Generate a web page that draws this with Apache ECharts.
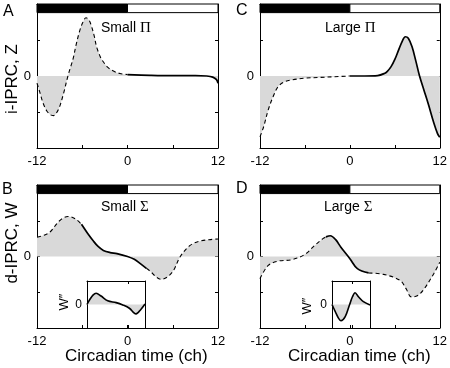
<!DOCTYPE html>
<html><head><meta charset="utf-8">
<script src="https://cdn.jsdelivr.net/npm/echarts@6/dist/echarts.min.js"></script>
<style>html,body{margin:0;padding:0;background:#fff}#c{width:450px;height:368px}</style>
</head><body><div id="c"></div>
<script>
// ---------------- data ----------------
const xTickLabels = [-12, 0, 12];
const xTicks = [-12, -6, 0, 6, 12];
const yTickLabels = [0];
const darkBar = [-12, 0];
const lightBar = [0, 12];

// Panel A: i-IPRC, Z (small Pi)
const aX = [-12, -11.6, -11.2, -10.7, -10.2, -9.8, -9.4, -9.0, -8.5, -7.9, -7.5, -7.2, -6.8, -6.3, -5.9, -5.5, -5.1, -4.8, -4.4, -4.1, -3.7, -3.4, -2.6, -1.8, -1, 0, 3, 6, 9, 10.5, 11.3, 11.8, 12];
const aY = [-0.2, -0.47, -0.75, -0.97, -1.08, -1.1, -1.02, -0.85, -0.5, 0, 0.28, 0.49, 0.88, 1.28, 1.5, 1.62, 1.55, 1.4, 1.1, 0.81, 0.58, 0.45, 0.24, 0.13, 0.07, 0.04, 0.02, 0.01, 0.01, 0, -0.03, -0.1, -0.2];
const aSolid = [[0, 12]];
const aDashed = [[-12, 0]];

// Panel C: i-IPRC, Z (large Pi)
const cX = [-12, -11.5, -10.9, -10.2, -9.6, -8.8, -7.8, -6, -4, -2, 0, 2, 3.7, 4.6, 5.0, 5.5, 6.0, 6.5, 7.0, 7.4, 7.8, 8.3, 8.8, 9.3, 9.9, 10.5, 11.2, 11.7, 12];
const cY = [-1.69, -1.4, -0.94, -0.55, -0.3, -0.17, -0.11, -0.06, -0.04, -0.02, 0, 0, 0.01, 0.07, 0.13, 0.26, 0.46, 0.72, 0.97, 1.09, 1.05, 0.81, 0.42, 0, -0.4, -0.8, -1.3, -1.6, -1.7];
const cSolid = [[0, 12]];
const cDashed = [[-12, 0]];

// Panel B: d-IPRC, W (small Sigma)
const bX = [-12, -11, -10.3, -9, -7.9, -6.9, -6.1, -5.3, -4.55, -3.9, -3.2, -2.3, -1.4, 0, 0.9, 1.7, 2.5, 3.0, 3.8, 4.45, 5.3, 6.1, 7.0, 8.3, 9.6, 10.8, 12];
const bY = [0.54, 0.6, 0.68, 1.0, 1.12, 1.05, 0.9, 0.65, 0.44, 0.28, 0.17, 0.11, 0.08, 0, -0.08, -0.2, -0.33, -0.41, -0.57, -0.64, -0.57, -0.39, 0, 0.31, 0.43, 0.47, 0.49];
const bSolid = [[-6.1, 2.5]];
const bDashed = [[-12, -6.1], [2.5, 12]];

// Panel D: d-IPRC, W (large Sigma)
const dX = [-12, -10.9, -9.6, -7.8, -6, -4.7, -3.6, -3.2, -2.6, -1.9, -1.2, 0, 1.0, 2.5, 4.5, 6.7, 7.5, 8.2, 9.0, 9.8, 11.2, 12];
const dY = [-0.62, -0.25, -0.13, -0.09, 0.06, 0.31, 0.5, 0.55, 0.58, 0.47, 0.26, -0.06, -0.34, -0.46, -0.5, -0.67, -0.9, -1.13, -1.1, -0.94, -0.48, -0.16];
const dSolid = [[-3.2, 2.5]];
const dDashed = [[-12, -3.2], [2.5, 12]];

// Insets: W''
const ibX = [-5, -4.7, -4.28, -3.9, -3.3, -2.5, -1.48, -0.68, 0.11, 0.71, 0.92, 1.52, 2];
const ibY = [0, 0.19, 0.4, 0.48, 0.36, 0.16, 0.08, -0.02, -0.16, -0.37, -0.4, -0.2, 0.02];
const idX = [-2.2, -1.84, -1.47, -1.21, -0.74, -0.27, 0.06, 0.35, 0.72, 1.27, 2];
const idY = [0, -0.3, -0.59, -0.69, -0.52, -0.02, 0.33, 0.5, 0.33, 0.12, -0.02];

// ---------------- chart ----------------
const FONT = 'Liberation Sans, Arial, Helvetica, sans-serif';
const FILL = '#d9d9d9';
const SMOOTH = 0.35;
const chart = echarts.init(document.getElementById('c'), null, {renderer: 'canvas'});

function pts(xs, ys, lo, hi) {
  const o = [];
  for (let i = 0; i < xs.length; i++) if (xs[i] >= lo - 1e-9 && xs[i] <= hi + 1e-9) o.push([xs[i], ys[i]]);
  return o;
}

const grid = [], xAxis = [], yAxis = [], series = [];

function mainPanel(box, xs, ys, solid, dashed, labelVals) {
  const g = grid.length;
  grid.push(Object.assign({}, box));
  const xb = xAxis.length;
  xAxis.push({gridIndex: g, type: 'value', min: -12, max: 12, interval: 6, position: 'bottom',
    axisLine: {show: true, onZero: false, lineStyle: {color: '#000', width: 1}},
    axisTick: {show: true, inside: true, length: 3, lineStyle: {color: '#000'}, customValues: xTicks},
    axisLabel: {show: true, hideOverlap: false, customValues: labelVals, margin: 7, fontSize: 13, color: '#000', fontFamily: FONT},
    splitLine: {show: false}});
  xAxis.push({gridIndex: g, type: 'value', min: -12, max: 12, position: 'top',
    axisLine: {show: true, onZero: false, lineStyle: {color: '#000', width: 1}},
    axisTick: {show: false}, axisLabel: {show: false}, splitLine: {show: false}});
  const yl = yAxis.length;
  yAxis.push({gridIndex: g, type: 'value', min: -2, max: 2, interval: 1, position: 'left',
    axisLine: {show: true, onZero: false, lineStyle: {color: '#000', width: 1}},
    axisTick: {show: true, inside: true, length: 3, lineStyle: {color: '#000'}},
    axisLabel: {show: true, hideOverlap: false, customValues: yTickLabels, margin: 6, fontSize: 13, color: '#000', fontFamily: FONT},
    splitLine: {show: false}});
  yAxis.push({gridIndex: g, type: 'value', min: -2, max: 2, interval: 1, position: 'right',
    axisLine: {show: true, onZero: false, lineStyle: {color: '#000', width: 1}},
    axisTick: {show: true, inside: true, length: 3, lineStyle: {color: '#000'}},
    axisLabel: {show: false}, splitLine: {show: false}});
  const all = xs.map((x, i) => [x, ys[i]]);
  series.push({type: 'line', xAxisIndex: xb, yAxisIndex: yl, data: all, smooth: SMOOTH,
    symbol: 'none', silent: true, z: 1,
    lineStyle: {width: 0, opacity: 0}, areaStyle: {color: FILL, opacity: 1, origin: 0},
    markArea: {silent: true, label: {show: false},
      itemStyle: {borderColor: '#000', borderWidth: 1},
      data: [
        [{xAxis: darkBar[0], yAxis: 1.76, itemStyle: {color: '#000', borderColor: '#000', borderWidth: 1}}, {xAxis: darkBar[1], yAxis: 2}],
        [{xAxis: lightBar[0], yAxis: 1.76, itemStyle: {color: '#fff', borderColor: '#000', borderWidth: 1}}, {xAxis: lightBar[1], yAxis: 2}]
      ]}});
  dashed.forEach(r => series.push({type: 'line', xAxisIndex: xb, yAxisIndex: yl, data: pts(xs, ys, r[0], r[1]),
    smooth: SMOOTH, symbol: 'none', silent: true, z: 3,
    lineStyle: {color: '#000', width: 1.1, type: [4, 3]}}));
  solid.forEach(r => series.push({type: 'line', xAxisIndex: xb, yAxisIndex: yl, data: pts(xs, ys, r[0], r[1]),
    smooth: SMOOTH, symbol: 'none', silent: true, z: 3,
    lineStyle: {color: '#000', width: 1.7, type: 'solid'}}));
  return {xb: xb, bottom: box.top + box.height};
}

function insetPanel(box, xs, ys, xmin, xmax) {
  const g = grid.length;
  grid.push(Object.assign({show: false}, box));
  const xb = xAxis.length;
  const tickOpts = {show: true, inside: true, length: 3, lineStyle: {color: '#000'}, customValues: [0]};
  xAxis.push({gridIndex: g, type: 'value', min: xmin, max: xmax, position: 'bottom', z: 6,
    axisLine: {show: true, onZero: false, lineStyle: {color: '#000', width: 1}},
    axisTick: tickOpts, axisLabel: {show: false}, splitLine: {show: false}});
  xAxis.push({gridIndex: g, type: 'value', min: xmin, max: xmax, position: 'top', z: 6,
    axisLine: {show: true, onZero: false, lineStyle: {color: '#000', width: 1}},
    axisTick: tickOpts, axisLabel: {show: false}, splitLine: {show: false}});
  const yl = yAxis.length;
  yAxis.push({gridIndex: g, type: 'value', min: -1, max: 1, interval: 1, position: 'left', z: 6,
    axisLine: {show: true, onZero: false, lineStyle: {color: '#000', width: 1}},
    axisTick: {show: false},
    axisLabel: {show: true, customValues: yTickLabels, margin: 5, fontSize: 12, color: '#000', fontFamily: FONT},
    splitLine: {show: false}});
  yAxis.push({gridIndex: g, type: 'value', min: -1, max: 1, position: 'right', z: 6,
    axisLine: {show: true, onZero: false, lineStyle: {color: '#000', width: 1}},
    axisTick: {show: false}, axisLabel: {show: false}, splitLine: {show: false}});
  const all = xs.map((x, i) => [x, ys[i]]);
  series.push({type: 'line', xAxisIndex: xb, yAxisIndex: yl, data: all, smooth: SMOOTH,
    symbol: 'none', silent: true, z: 7,
    lineStyle: {color: '#000', width: 1.6}, areaStyle: {color: FILL, opacity: 1, origin: 0}});
}

mainPanel({left: 37, top: 4, width: 181, height: 144}, aX, aY, aSolid, aDashed, xTickLabels);
mainPanel({left: 260, top: 4, width: 181, height: 144}, cX, cY, cSolid, cDashed, xTickLabels);
const bInfo = mainPanel({left: 37, top: 185, width: 181, height: 143}, bX, bY, bSolid, bDashed, xTickLabels.filter(v => v !== 0));
mainPanel({left: 260, top: 185, width: 181, height: 143}, dX, dY, dSolid, dDashed, xTickLabels);
insetPanel({left: 87, top: 281, width: 58, height: 47}, ibX, ibY, -5, 2);
insetPanel({left: 332, top: 281, width: 38, height: 47}, idX, idY, -2.2, 2);

function txt(x, y, text, size) {
  return {type: 'text', x: x, y: y, silent: true,
    style: {text: text, fontSize: size, fontFamily: FONT, fill: '#000', textVerticalAlign: 'middle', textAlign: 'left'}};
}
function rich(x, y, a, b) {
  return {type: 'text', x: x, y: y, silent: true,
    style: {text: a + ' {g|' + b + '}', fontSize: 14, fontFamily: FONT, fill: '#000', textVerticalAlign: 'middle', textAlign: 'left',
      rich: {g: {fontSize: 15, fontFamily: 'Liberation Serif, Times New Roman, serif', fill: '#000'}}}};
}
function rot(x, y, text, size) {
  return {type: 'text', x: x, y: y, rotation: Math.PI / 2, silent: true,
    style: {text: text, fontSize: size, fontFamily: FONT, fill: '#000', textVerticalAlign: 'middle', textAlign: 'center'}};
}

const elements = [
  txt(3, 12, 'A', 16), txt(2, 190, 'B', 16), txt(236, 11, 'C', 16), txt(236, 189, 'D', 16),
  rich(101, 28, 'Small', 'Π'), rich(325, 28, 'Large', 'Π'),
  rich(101, 207, 'Small', 'Σ'), rich(324, 207, 'Large', 'Σ'),
  rot(12, 79, 'i-IPRC, Z', 17), rot(12, 243, 'd-IPRC, W', 17),
  txt(65, 356, 'Circadian time (ch)', 17), txt(288, 356, 'Circadian time (ch)', 17),
  rot(64, 302, 'W″', 13), rot(307, 306, 'W″', 13)
];

chart.setOption({animation: false, backgroundColor: '#fff', grid, xAxis, yAxis, series});

// B panel zero tick label, positioned through the axis scale, on a top layer
let bZeroX = chart.convertToPixel({xAxisIndex: bInfo.xb}, 0);
if (Array.isArray(bZeroX)) bZeroX = bZeroX[0];
if (!Number.isFinite(bZeroX)) bZeroX = 37 + 181 / 2;
elements.push({type: 'text', x: bZeroX, y: bInfo.bottom + 7, silent: true,
  style: {text: String(xTickLabels[1]), fontSize: 13, fontFamily: FONT, fill: '#000', textAlign: 'center', textVerticalAlign: 'top'}});
chart.setOption({graphic: {zlevel: 1, elements: elements}});
</script>
</body></html>
